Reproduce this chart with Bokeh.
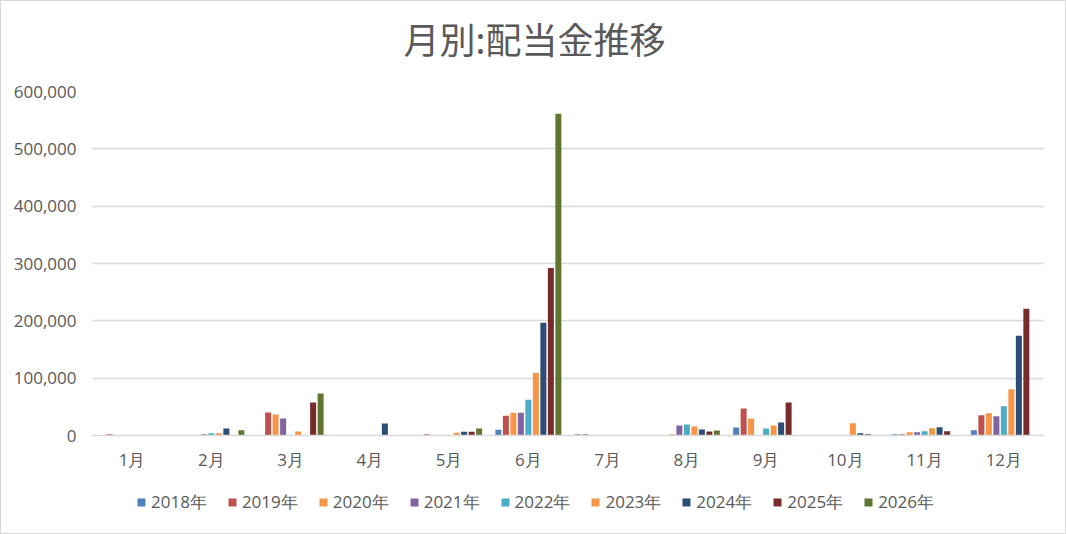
from bokeh.plotting import figure
from bokeh.models import (FactorRange, Range1d, FixedTicker, NumeralTickFormatter,
                          Legend, LegendItem, Label, ColumnDataSource)
from bokeh.layouts import column
from bokeh.transform import dodge
from bokeh.embed import file_html
from bokeh.resources import INLINE

title_text = "月別:配当金推移"
months = ["1月", "2月", "3月", "4月", "5月", "6月", "7月", "8月", "9月", "10月", "11月", "12月"]
years = ["2018年", "2019年", "2020年", "2021年", "2022年", "2023年", "2024年", "2025年", "2026年"]

y2018 = [0, 0, 0, 0, 0, 9900, 2000, 0, 14000, 0, 2000, 9300]
y2019 = [2000, 0, 40000, 0, 2000, 34300, 2000, 0, 47000, 0, 2300, 35500]
y2020 = [0, 0, 36600, 0, 0, 39500, 0, 2000, 29700, 0, 5800, 39000]
y2021 = [0, 2000, 29700, 0, 0, 39500, 0, 17400, 0, 0, 5800, 33700]
y2022 = [0, 4000, 0, 0, 0, 62200, 0, 19200, 12200, 0, 7600, 51200]
y2023 = [0, 4000, 7000, 0, 4600, 109000, 0, 15700, 17400, 21500, 12800, 80800]
y2024 = [0, 12000, 0, 21000, 6400, 196500, 0, 10500, 22700, 4000, 14500, 174000]
y2025 = [0, 0, 57600, 0, 6400, 292000, 0, 7000, 57600, 2300, 7600, 221000]
y2026 = [0, 9000, 73300, 0, 12200, 561000, 0, 8700, 0, 0, 0, 0]

series = [y2018, y2019, y2020, y2021, y2022, y2023, y2024, y2025, y2026]
colors = ["#4F81BD", "#C0504D", "#F79646", "#8064A2", "#4BACC6",
          "#F79646", "#2C4D75", "#772C2A", "#5F7530"]
y_ticks = [0, 100000, 200000, 300000, 400000, 500000, 600000]

TXT = "#595959"
GRID = "#D9D9D9"
CJK = "Noto Sans CJK JP"
LAT = "Open Sans"
FS = "17px"
W = 1064
BL, BR = 91, 22


def blank_fig(h):
    f = figure(width=W, height=h, x_range=Range1d(0, 1), y_range=Range1d(0, 1),
               output_backend="svg", toolbar_location=None,
               min_border_left=BL, min_border_right=BR,
               min_border_top=0, min_border_bottom=0)
    f.axis.visible = False
    f.grid.visible = False
    f.outline_line_color = None
    f.background_fill_color = "white"
    f.border_fill_color = "white"
    return f


# ---- title strip (frame aligned with the chart frame)
tf = blank_fig(70)
tf.add_layout(Label(x=(534 - 92) / 951, y=34 / 70, text=title_text, text_align="center",
                    text_baseline="middle", text_font=CJK, text_font_size="36px",
                    text_color=TXT))

# ---- main chart
data = {"month": months}
for yr, vals in zip(years, series):
    data[yr] = vals
source = ColumnDataSource(data)

p = figure(x_range=FactorRange(factors=months, range_padding=0),
           y_range=Range1d(0, 600000),
           width=W, height=404,
           output_backend="svg", toolbar_location=None,
           min_border_left=BL, min_border_right=BR,
           min_border_top=20, min_border_bottom=40)

step = 0.0946
bw = 0.0757
for i, (yr, col) in enumerate(zip(years, colors)):
    p.vbar(x=dodge("month", (i - 4) * step, range=p.x_range), top=yr,
           width=bw, source=source, fill_color=col, line_color=None)

p.outline_line_color = None
p.background_fill_color = "white"
p.border_fill_color = "white"

p.xgrid.grid_line_color = None
p.ygrid.grid_line_color = GRID
p.ygrid.grid_line_width = 1.3
p.ygrid.ticker = FixedTicker(ticks=y_ticks)

p.yaxis.ticker = FixedTicker(ticks=y_ticks)
p.yaxis.formatter = NumeralTickFormatter(format="0,0")
p.yaxis.axis_line_color = None
p.yaxis.major_tick_line_color = None
p.yaxis.minor_tick_line_color = None
p.yaxis.major_tick_out = 0
p.yaxis.major_tick_in = 0
p.yaxis.major_label_standoff = 16
p.yaxis.major_label_text_font = LAT
p.yaxis.major_label_text_font_size = FS
p.yaxis.major_label_text_color = TXT

p.xaxis.axis_line_color = GRID
p.xaxis.axis_line_width = 1.6
p.xaxis.major_tick_line_color = None
p.xaxis.minor_tick_line_color = None
p.xaxis.major_tick_out = 0
p.xaxis.major_tick_in = 0
p.xaxis.major_label_standoff = 12
p.xaxis.major_label_text_font = LAT
p.xaxis.major_label_text_font_size = FS
p.xaxis.major_label_text_color = TXT

# ---- legend strip (swatch renderers hold one point outside the visible range)
lf = blank_fig(58)
items = []
for yr, col in zip(years, colors):
    r = lf.vbar(x=[-10], top=[-10], bottom=[-11], width=0.1, fill_color=col, line_color=None)
    items.append(LegendItem(label=yr, renderers=[r]))
legend = Legend(items=items, orientation="horizontal", location=(44, 19),
                glyph_width=10, glyph_height=10, label_standoff=5, spacing=20,
                label_height=20, label_text_font=LAT, label_text_font_size=FS,
                label_text_color=TXT, border_line_color=None,
                background_fill_alpha=0, padding=0, margin=0)
lf.add_layout(legend, "center")

page = column(tf, p, lf, spacing=0, styles={"border": "1px solid #D9D9D9"})

open("out.html", "w").write(file_html(page, INLINE))
